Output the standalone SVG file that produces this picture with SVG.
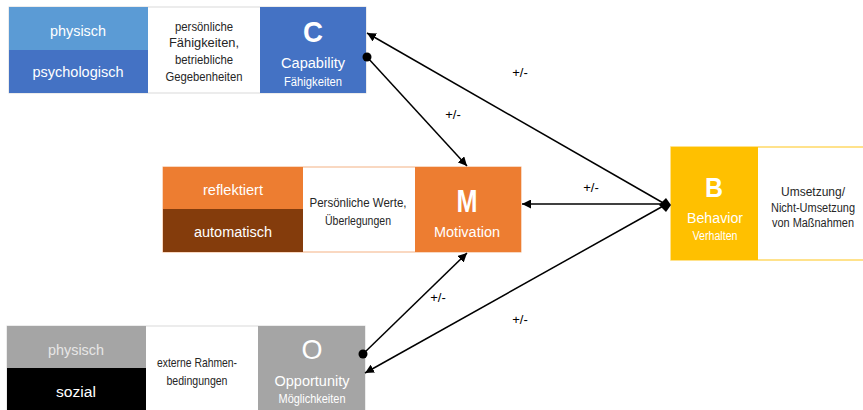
<svg xmlns="http://www.w3.org/2000/svg" width="863" height="410" viewBox="0 0 863 410">
<style>
text{font-family:"Liberation Sans",Arial,sans-serif;text-anchor:middle}
.w{fill:#ffffff}
.d{fill:#262626;font-size:13px}
.dr{fill:#262626;font-size:12px}
.big{font-size:30px;font-weight:bold}
.mid{font-size:15.5px}
.sm{font-size:12px}
.ln{stroke:#000;stroke-width:1.5;fill:none}
.lbl{font-size:13px;fill:#000}
</style>
<defs>
<marker id="ah" viewBox="0 0 10 10" refX="10" refY="5" markerWidth="9" markerHeight="9" markerUnits="userSpaceOnUse" orient="auto-start-reverse">
<path d="M0,0 L10,5 L0,10 z" fill="#000"/>
</marker>
<marker id="dot" viewBox="0 0 10 10" refX="5" refY="5" markerWidth="10" markerHeight="10" markerUnits="userSpaceOnUse">
<circle cx="5" cy="5" r="4.5" fill="#000"/>
</marker>
</defs>
<rect width="863" height="410" fill="#ffffff"/>
<g id="capability">
<rect x="9" y="7" width="357" height="86" fill="#ffffff" stroke="#d9d9d9" stroke-width="1"/>
<rect x="9" y="7" width="139" height="43" fill="#5b9bd5"/>
<rect x="9" y="50" width="139" height="43" fill="#4472c4"/>
<rect x="260" y="7" width="106" height="86" fill="#4472c4"/>
<text class="w mid" x="78" y="36" textLength="56" lengthAdjust="spacingAndGlyphs">physisch</text>
<text class="w mid" x="78" y="77" textLength="91" lengthAdjust="spacingAndGlyphs">psychologisch</text>
<text class="d" x="204" y="31" textLength="58" lengthAdjust="spacingAndGlyphs">persönliche</text>
<text class="d" x="204" y="47" textLength="70" lengthAdjust="spacingAndGlyphs">Fähigkeiten,</text>
<text class="d" x="204" y="64" textLength="58" lengthAdjust="spacingAndGlyphs">betriebliche</text>
<text class="d" x="204" y="81" textLength="77" lengthAdjust="spacingAndGlyphs">Gegebenheiten</text>
<text class="w big" x="313" y="42" textLength="20" lengthAdjust="spacingAndGlyphs">C</text>
<text class="w mid" x="313" y="68" textLength="64" lengthAdjust="spacingAndGlyphs">Capability</text>
<text class="w sm" x="313" y="86" textLength="58" lengthAdjust="spacingAndGlyphs">Fähigkeiten</text>
</g>
<g id="motivation">
<rect x="163" y="167" width="358" height="85" fill="#ffffff" stroke="#f4b183" stroke-width="1"/>
<rect x="163" y="167" width="140" height="42" fill="#ed7d31"/>
<rect x="163" y="209" width="140" height="43" fill="#843c0c"/>
<rect x="415" y="167" width="106" height="85" fill="#ed7d31"/>
<text class="w mid" x="233" y="195" textLength="60" lengthAdjust="spacingAndGlyphs">reflektiert</text>
<text class="w mid" x="233" y="237" textLength="78" lengthAdjust="spacingAndGlyphs">automatisch</text>
<text class="d" x="358" y="207" textLength="97" lengthAdjust="spacingAndGlyphs">Persönliche Werte,</text>
<text class="d" x="358" y="225" textLength="66" lengthAdjust="spacingAndGlyphs">Überlegungen</text>
<text class="w big" x="467" y="212" style="font-size:31px" textLength="21" lengthAdjust="spacingAndGlyphs">M</text>
<text class="w mid" x="467" y="237" textLength="66" lengthAdjust="spacingAndGlyphs">Motivation</text>
</g>
<g id="opportunity">
<rect x="7" y="326" width="358" height="90" fill="#ffffff" stroke="#d9d9d9" stroke-width="1"/>
<rect x="7" y="326" width="139" height="42" fill="#a5a5a5"/>
<rect x="7" y="368" width="139" height="42" fill="#000000"/>
<rect x="258" y="326" width="107" height="84" fill="#a5a5a5"/>
<text class="mid" x="76" y="355" fill="#e7e6e6" textLength="56" lengthAdjust="spacingAndGlyphs">physisch</text>
<text class="w mid" x="76" y="397" textLength="40" lengthAdjust="spacingAndGlyphs">sozial</text>
<text class="d" x="197" y="367" textLength="80" lengthAdjust="spacingAndGlyphs">externe Rahmen-</text>
<text class="d" x="197" y="385" textLength="61" lengthAdjust="spacingAndGlyphs">bedingungen</text>
<text class="w big" x="312" y="359" style="font-size:28px;font-weight:normal" textLength="21" lengthAdjust="spacingAndGlyphs">O</text>
<text class="w mid" x="312" y="386" textLength="75" lengthAdjust="spacingAndGlyphs">Opportunity</text>
<text class="w sm" x="312" y="403" textLength="67" lengthAdjust="spacingAndGlyphs">Möglichkeiten</text>
</g>
<g id="behavior">
<rect x="671" y="147" width="197" height="113" fill="#ffffff" stroke="#ffd966" stroke-width="1.5"/>
<rect x="671" y="147" width="87" height="113" fill="#ffc000"/>
<text class="w big" x="714" y="197" style="font-size:28px" textLength="18" lengthAdjust="spacingAndGlyphs">B</text>
<text class="w mid" x="715" y="223" textLength="56" lengthAdjust="spacingAndGlyphs">Behavior</text>
<text class="w sm" x="715" y="240" textLength="45" lengthAdjust="spacingAndGlyphs">Verhalten</text>
<text class="dr" x="813" y="196" textLength="64" lengthAdjust="spacingAndGlyphs">Umsetzung/</text>
<text class="dr" x="813" y="212" textLength="84" lengthAdjust="spacingAndGlyphs">Nicht-Umsetzung</text>
<text class="dr" x="813" y="227" textLength="82" lengthAdjust="spacingAndGlyphs">von Maßnahmen</text>
</g>
<g id="connectors">
<line class="ln" x1="665" y1="204" x2="367" y2="33" marker-end="url(#ah)"/>
<line class="ln" x1="367" y1="57" x2="467" y2="166" marker-start="url(#dot)" marker-end="url(#ah)"/>
<line class="ln" x1="665" y1="204" x2="522" y2="204" marker-end="url(#ah)"/>
<line class="ln" x1="363" y1="354" x2="467" y2="253" marker-start="url(#dot)" marker-end="url(#ah)"/>
<line class="ln" x1="665" y1="205" x2="365" y2="373" marker-end="url(#ah)"/>
<path d="M659,205 L666,198 L671,205 L666,212 z" fill="#000"/>
<text class="lbl" x="520" y="77">+/-</text>
<text class="lbl" x="453" y="119">+/-</text>
<text class="lbl" x="591" y="192">+/-</text>
<text class="lbl" x="438" y="302">+/-</text>
<text class="lbl" x="520" y="324">+/-</text>
</g>
</svg>
